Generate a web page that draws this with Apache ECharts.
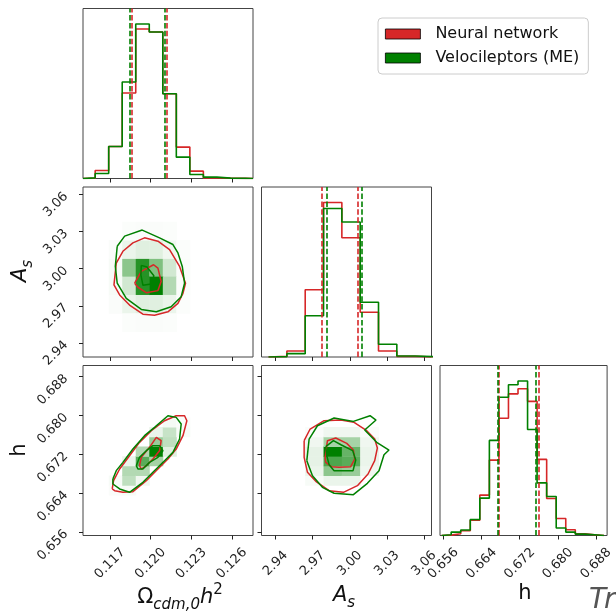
<!DOCTYPE html>
<html>
<head>
<meta charset="utf-8">
<script src="https://cdn.jsdelivr.net/npm/echarts@6/dist/echarts.min.js"></script>
<style>
  html, body { margin: 0; padding: 0; background: #fff; }
  #main { width: 616px; height: 611px; }
</style>
</head>
<body>
<div id="main"></div>
<script>
// ---- data ----
var omTicks = [0.117, 0.120, 0.123, 0.126];
var asTicks = [2.94, 2.97, 3.00, 3.03, 3.06];
var hTicks = [0.656, 0.664, 0.672, 0.680, 0.688];

// histogram bin edges
var omEdges = [0.1150, 0.1159, 0.1169, 0.1179, 0.1189, 0.1199, 0.1209, 0.1219, 0.1229, 0.1239, 0.1249, 0.1259, 0.1270, 0.12757];
var asEdges = [2.9344, 2.9492, 2.9640, 2.9788, 2.9936, 3.0084, 3.0232, 3.0380, 3.0528, 3.0676];
var hEdges = [0.65564, 0.65764, 0.65964, 0.66164, 0.66364, 0.66564, 0.66764, 0.66964, 0.67164,
              0.67364, 0.67564, 0.67764, 0.67964, 0.68164, 0.68364, 0.68564, 0.68764, 0.68964];

// 1D histogram heights (arbitrary units)
var omRed   = [1, 24, 96, 256, 448, 439, 254, 94, 22, 2, 1, 0.5, 0];
var omGreen = [2, 15, 96, 289, 463, 439, 254, 64, 12, 4, 1, 0.5, 0];
var asRed   = [2, 18, 200, 460, 355, 133, 18, 2, 0];
var asGreen = [1, 10, 123, 442, 402, 163, 38, 3, 1];
var hRed    = [1, 5, 14, 45, 119, 222, 345, 417, 432, 395, 224, 109, 50, 17, 5, 2, 0];
var hGreen  = [2, 10, 16, 47, 110, 280, 407, 444, 455, 312, 155, 115, 22, 10, 4, 2, 0];

// quantile lines (16%, 84%)
var omQRed = [0.11861, 0.12120], omQGreen = [0.11849, 0.12108];
var asQRed = [2.9774, 3.0065],   asQGreen = [2.9815, 3.0099];
var hQRed  = [0.66769, 0.67602], hQGreen  = [0.66734, 0.67534];

// 2D density cells: [xBin, yBin, level]
var cellsOmAs = [
  [2,4,0.03],[3,4,0.45],[4,4,0.85],[5,4,0.5],[6,4,0.18],[7,4,0.02],
  [2,3,0.03],[3,3,0.18],[4,3,0.85],[5,3,1.0],[6,3,0.3],[7,3,0.02],
  [2,2,0.02],[3,2,0.08],[4,2,0.12],[5,2,0.12],[6,2,0.08],[7,2,0.015],
  [2,5,0.02],[3,5,0.08],[4,5,0.12],[5,5,0.12],[6,5,0.06],[7,5,0.015],
  [3,6,0.015],[4,6,0.02],[5,6,0.02],[6,6,0.015],
  [3,1,0.015],[4,1,0.02],[5,1,0.02],[6,1,0.015]
];
var cellsOmH = [
  [2,4,0.02],[2,5,0.03],
  [3,4,0.03],[3,5,0.25],[3,6,0.3],[3,7,0.08],
  [4,5,0.06],[4,6,0.3],[4,7,0.65],[4,8,0.3],
  [5,7,0.35],[5,8,1.0],[5,9,0.4],[5,10,0.08],
  [6,8,0.12],[6,9,0.25],[6,10,0.22],[6,11,0.04],
  [7,10,0.03],[7,11,0.02]
];
var cellsAsH = [
  [2,5,0.03],[2,6,0.08],[2,7,0.1],[2,8,0.1],[2,9,0.06],[2,10,0.02],
  [3,5,0.08],[3,6,0.45],[3,7,0.7],[3,8,1.0],[3,9,0.35],[3,10,0.06],
  [4,5,0.08],[4,6,0.4],[4,7,0.65],[4,8,0.6],[4,9,0.35],[4,10,0.06],
  [5,6,0.06],[5,7,0.08],[5,8,0.08],[5,9,0.06],[5,10,0.02]
];

// contours [x, y]
var omAsRedOuter = [[0.11746,3.00459],[0.11795,3.01409],[0.11869,3.02089],[0.11955,3.02496],[0.12054,3.02224],[0.12140,3.01545],[0.12214,3.00187],[0.12258,2.98829],[0.12239,2.98014],[0.12202,2.97199],[0.12128,2.96519],[0.12029,2.96248],[0.11943,2.96329],[0.11844,2.97063],[0.11771,2.97878],[0.11729,2.98693]];
var omAsGreenOuter = [[0.11753,3.01817],[0.11808,3.02632],[0.11938,3.03121],[0.12066,3.02496],[0.12165,3.01953],[0.12202,3.01274],[0.12234,3.00187],[0.12251,2.98829],[0.12226,2.97742],[0.12152,2.96927],[0.12042,2.96519],[0.11931,2.96710],[0.11820,2.97606],[0.11753,2.98829],[0.11739,3.00187]];
var omAsRedInner = [[0.11882,2.98829],[0.11931,2.99779],[0.12022,3.00323],[0.12054,3.00051],[0.12078,2.98964],[0.12054,2.98231],[0.11968,2.98068],[0.11906,2.98503]];
var omAsGreenInner = [[0.11931,3.00268],[0.11973,3.00133],[0.12024,2.99426],[0.12005,2.98774],[0.11943,2.98666],[0.11928,2.99508]];

var omHRedOuter = [[0.11716,0.66488],[0.11726,0.66659],[0.11771,0.66899],[0.11844,0.67173],[0.11918,0.67447],[0.12005,0.67687],[0.12103,0.67893],[0.12189,0.67996],[0.12251,0.67996],[0.12268,0.67893],[0.12239,0.67585],[0.12189,0.67310],[0.12128,0.67105],[0.12054,0.66899],[0.11968,0.66659],[0.11869,0.66433],[0.11795,0.66419],[0.11734,0.66453]];
var omHGreenOuter = [[0.11721,0.66693],[0.11746,0.66865],[0.11795,0.67036],[0.11869,0.67310],[0.11955,0.67585],[0.12029,0.67756],[0.12128,0.67996],[0.12189,0.67962],[0.12226,0.67825],[0.12214,0.67516],[0.12165,0.67242],[0.12103,0.67070],[0.12017,0.66831],[0.11943,0.66625],[0.11844,0.66419],[0.11771,0.66488],[0.11721,0.66590]];
var omHRedInner = [[0.11918,0.66968],[0.11931,0.67139],[0.11992,0.67345],[0.12042,0.67550],[0.12078,0.67482],[0.12066,0.67276],[0.12017,0.67105],[0.11968,0.66968],[0.11931,0.66899]];
var omHGreenInner = [[0.11894,0.66968],[0.11918,0.67139],[0.11968,0.67276],[0.12017,0.67379],[0.12066,0.67379],[0.12091,0.67276],[0.12054,0.67139],[0.11992,0.67036],[0.11943,0.66899],[0.11906,0.66899]];

var asHRedOuter = [[2.96314,0.67482],[2.96798,0.67722],[2.97927,0.67893],[2.99271,0.67907],[3.00346,0.67859],[3.01367,0.67688],[3.02013,0.67516],[3.02228,0.67331],[3.02013,0.67071],[3.01475,0.66796],[3.00615,0.66556],[2.99486,0.66419],[2.98330,0.66453],[2.97255,0.66645],[2.96583,0.66830],[2.96314,0.67139]];
var asHGreenOuter = [[2.96529,0.67071],[2.96717,0.67516],[2.97389,0.67790],[2.98733,0.67948],[3.00292,0.67879],[3.01636,0.67996],[3.02120,0.67907],[3.01206,0.67701],[3.02174,0.67448],[3.03168,0.67290],[3.02765,0.67194],[3.02362,0.66865],[3.01421,0.66604],[3.00292,0.66371],[2.98733,0.66399],[2.97792,0.66522],[2.96986,0.66762]];
var asHRedInner = [[2.98007,0.67139],[2.98196,0.67482],[2.98868,0.67537],[2.99755,0.67427],[3.00292,0.67290],[3.00400,0.67105],[3.00077,0.66947],[2.99136,0.66933],[2.98518,0.66947],[2.98061,0.67036]];
var asHGreenInner = [[2.98061,0.67358],[2.98679,0.67482],[2.99325,0.67393],[3.00238,0.67276],[3.00480,0.67084],[3.00265,0.66865],[2.98733,0.66865],[2.98330,0.66988],[2.98142,0.67173]];

// ---- styling / helpers ----
var RED = '#d62728', GREEN = '#008000';
var NAME_R = 'Neural network', NAME_G = 'Velocileptors (ME)';
var FONT = 'DejaVu Sans';
var S = 170;
var colL = [83, 261.5, 440], rowT = [8.5, 187, 365.5];

function steps(edges, counts) {
  var pts = [[edges[0], 0]];
  for (var i = 0; i < counts.length; i++) pts.push([edges[i], counts[i]]);
  pts.push([edges[counts.length], counts[counts.length - 1]]);
  pts.push([edges[counts.length], 0]);
  return pts;
}
function closed(pts) { return pts.concat([pts[0]]); }
function shade(v) {
  var r = Math.round(255 * (1 - v)), g = Math.round(255 - 127 * v);
  return 'rgb(' + r + ',' + g + ',' + r + ')';
}
function cellData(cells, xe, ye) {
  return cells.map(function (c) { return [xe[c[0]], xe[c[0] + 1], ye[c[1]], ye[c[1] + 1], c[2]]; });
}
function histMax(a, b) { return 1.1 * Math.max(Math.max.apply(null, a), Math.max.apply(null, b)); }

var fmt3 = function (v) { return v.toFixed(3); };
var fmt2 = function (v) { return v.toFixed(2); };

function valAxis(idx, range, ticks, fmt, showLabel, isY) {
  var ax = {
    type: 'value', gridIndex: idx, min: range[0], max: range[1], scale: true,
    axisLine: { show: false }, splitLine: { show: false },
    axisTick: { show: true, inside: false, length: 4, customValues: ticks, lineStyle: { color: '#222', width: 1 } },
    axisLabel: { show: showLabel, customValues: ticks, formatter: fmt, rotate: 45, fontSize: 13, color: '#222', fontFamily: FONT }
  };
  if (isY) { ax.axisLabel.margin = 17; }
  else { ax.axisLabel.margin = 28; ax.axisLabel.align = 'center'; ax.axisLabel.verticalAlign = 'middle'; }
  return ax;
}
function countAxis(idx, a, b) {
  return { type: 'value', gridIndex: idx, min: 0, max: histMax(a, b), show: false, splitLine: { show: false } };
}

var omRange = [0.1150, 0.12757], asRange = [2.9287, 3.0660], hRange = [0.6553, 0.6903];

var grids = [
  [0, 0], [0, 1], [1, 1], [0, 2], [1, 2], [2, 2]
].map(function (p) {
  return { left: colL[p[0]], top: rowT[p[1]], width: S, height: S, show: true, borderColor: '#444', borderWidth: 1, backgroundColor: 'transparent' };
});

var xAxes = [
  valAxis(0, omRange, omTicks, fmt3, false, false),
  valAxis(1, omRange, omTicks, fmt3, false, false),
  valAxis(2, asRange, asTicks, fmt2, false, false),
  valAxis(3, omRange, omTicks, fmt3, true, false),
  valAxis(4, asRange, asTicks, fmt2, true, false),
  valAxis(5, hRange, hTicks, fmt3, true, false)
];
var yAxes = [
  countAxis(0, omRed, omGreen),
  valAxis(1, asRange, asTicks, fmt2, true, true),
  countAxis(2, asRed, asGreen),
  valAxis(3, hRange, hTicks, fmt3, true, true),
  valAxis(4, hRange, hTicks, fmt3, false, true),
  countAxis(5, hRed, hGreen)
];

function histSeries(name, color, axis, edges, counts, q) {
  return {
    name: name, type: 'line', xAxisIndex: axis, yAxisIndex: axis, step: 'end',
    showSymbol: false, symbol: 'none', data: steps(edges, counts), z: 3,
    lineStyle: { color: color, width: 1.6 }, itemStyle: { color: color },
    markLine: {
      silent: true, symbol: 'none', precision: 6, label: { show: false },
      lineStyle: { color: color, width: 1.6, type: [5.5, 2.4] },
      data: [{ xAxis: q[0] }, { xAxis: q[1] }]
    }
  };
}
function contourSeries(name, color, axis, pts) {
  return {
    name: name, type: 'line', xAxisIndex: axis, yAxisIndex: axis,
    showSymbol: false, symbol: 'none', data: closed(pts), z: 4,
    lineStyle: { color: color, width: 1.5 }, itemStyle: { color: color }
  };
}
function densitySeries(axis, cells, xe, ye) {
  return {
    name: NAME_G, type: 'custom', xAxisIndex: axis, yAxisIndex: axis, z: 2, clip: true,
    encode: { x: [0, 1], y: [2, 3] },
    data: cellData(cells, xe, ye),
    itemStyle: { color: GREEN },
    renderItem: function (params, api) {
      var p0 = api.coord([api.value(0), api.value(3)]);
      var p1 = api.coord([api.value(1), api.value(2)]);
      return {
        type: 'rect',
        shape: { x: p0[0], y: p0[1], width: p1[0] - p0[0] + 0.5, height: p1[1] - p0[1] + 0.5 },
        style: { fill: shade(api.value(4)) }
      };
    }
  };
}

var series = [
  histSeries(NAME_R, RED, 0, omEdges, omRed, omQRed),
  histSeries(NAME_G, GREEN, 0, omEdges, omGreen, omQGreen),
  histSeries(NAME_R, RED, 2, asEdges, asRed, asQRed),
  histSeries(NAME_G, GREEN, 2, asEdges, asGreen, asQGreen),
  histSeries(NAME_R, RED, 5, hEdges, hRed, hQRed),
  histSeries(NAME_G, GREEN, 5, hEdges, hGreen, hQGreen),

  densitySeries(1, cellsOmAs, omEdges, asEdges),
  densitySeries(3, cellsOmH, omEdges, hEdges),
  densitySeries(4, cellsAsH, asEdges, hEdges),

  contourSeries(NAME_R, RED, 1, omAsRedOuter),
  contourSeries(NAME_R, RED, 1, omAsRedInner),
  contourSeries(NAME_G, GREEN, 1, omAsGreenOuter),
  contourSeries(NAME_G, GREEN, 1, omAsGreenInner),
  contourSeries(NAME_R, RED, 3, omHRedOuter),
  contourSeries(NAME_R, RED, 3, omHRedInner),
  contourSeries(NAME_G, GREEN, 3, omHGreenOuter),
  contourSeries(NAME_G, GREEN, 3, omHGreenInner),
  contourSeries(NAME_R, RED, 4, asHRedOuter),
  contourSeries(NAME_R, RED, 4, asHRedInner),
  contourSeries(NAME_G, GREEN, 4, asHGreenOuter),
  contourSeries(NAME_G, GREEN, 4, asHGreenInner)
];

var rich = {
  m: { fontFamily: FONT, fontSize: 21, color: '#111', fontStyle: 'italic', verticalAlign: 'middle', lineHeight: 30 },
  u: { fontFamily: FONT, fontSize: 21, color: '#111', verticalAlign: 'middle', lineHeight: 30 },
  sub: { fontFamily: FONT, fontSize: 15, color: '#111', fontStyle: 'italic', verticalAlign: 'bottom', lineHeight: 30 },
  sup: { fontFamily: FONT, fontSize: 15, color: '#111', verticalAlign: 'top', lineHeight: 30 }
};
function label(x, y, text, rot) {
  return {
    type: 'text', x: x, y: y, rotation: rot || 0,
    style: { text: text, rich: rich, align: 'center', verticalAlign: 'middle', fontFamily: FONT, fontSize: 21, fill: '#111' }
  };
}

var dom = document.getElementById('main');
var myChart = echarts.init(dom, null, { renderer: 'canvas' });
var option = {
  animation: false,
  backgroundColor: '#fff',
  grid: grids,
  xAxis: xAxes,
  yAxis: yAxes,
  legend: {
    orient: 'vertical', left: 378, top: 18,
    padding: [8, 9, 8, 7], itemGap: 8, itemWidth: 35, itemHeight: 10,
    borderColor: '#ccc', borderWidth: 1, borderRadius: 4, backgroundColor: '#fff',
    textStyle: { fontFamily: FONT, fontSize: 16, color: '#111', padding: [0, 0, 0, 10] },
    selectedMode: false,
    data: [
      { name: NAME_R, icon: 'rect', itemStyle: { color: RED, borderColor: '#000', borderWidth: 0.8 } },
      { name: NAME_G, icon: 'rect', itemStyle: { color: GREEN, borderColor: '#000', borderWidth: 0.8 } }
    ]
  },
  graphic: [
    label(21, 271, '{m|A}{sub|s}', Math.PI / 2),
    label(20, 450, '{u|h}', Math.PI / 2),
    label(180, 598, '{u|Ω}{sub|cdm,0}{m|h}{sup|2}'),
    label(344, 596, '{m|A}{sub|s}'),
    label(525, 594, '{u|h}'),
    {
      type: 'text', x: 589, y: 601,
      style: { text: 'Truth', fontFamily: FONT, fontSize: 28, fontStyle: 'italic', fill: '#555', verticalAlign: 'middle', align: 'left' }
    }
  ],
  series: series
};
if (option && typeof option === 'object') {
  myChart.setOption(option, true);
}
</script>
</body>
</html>
